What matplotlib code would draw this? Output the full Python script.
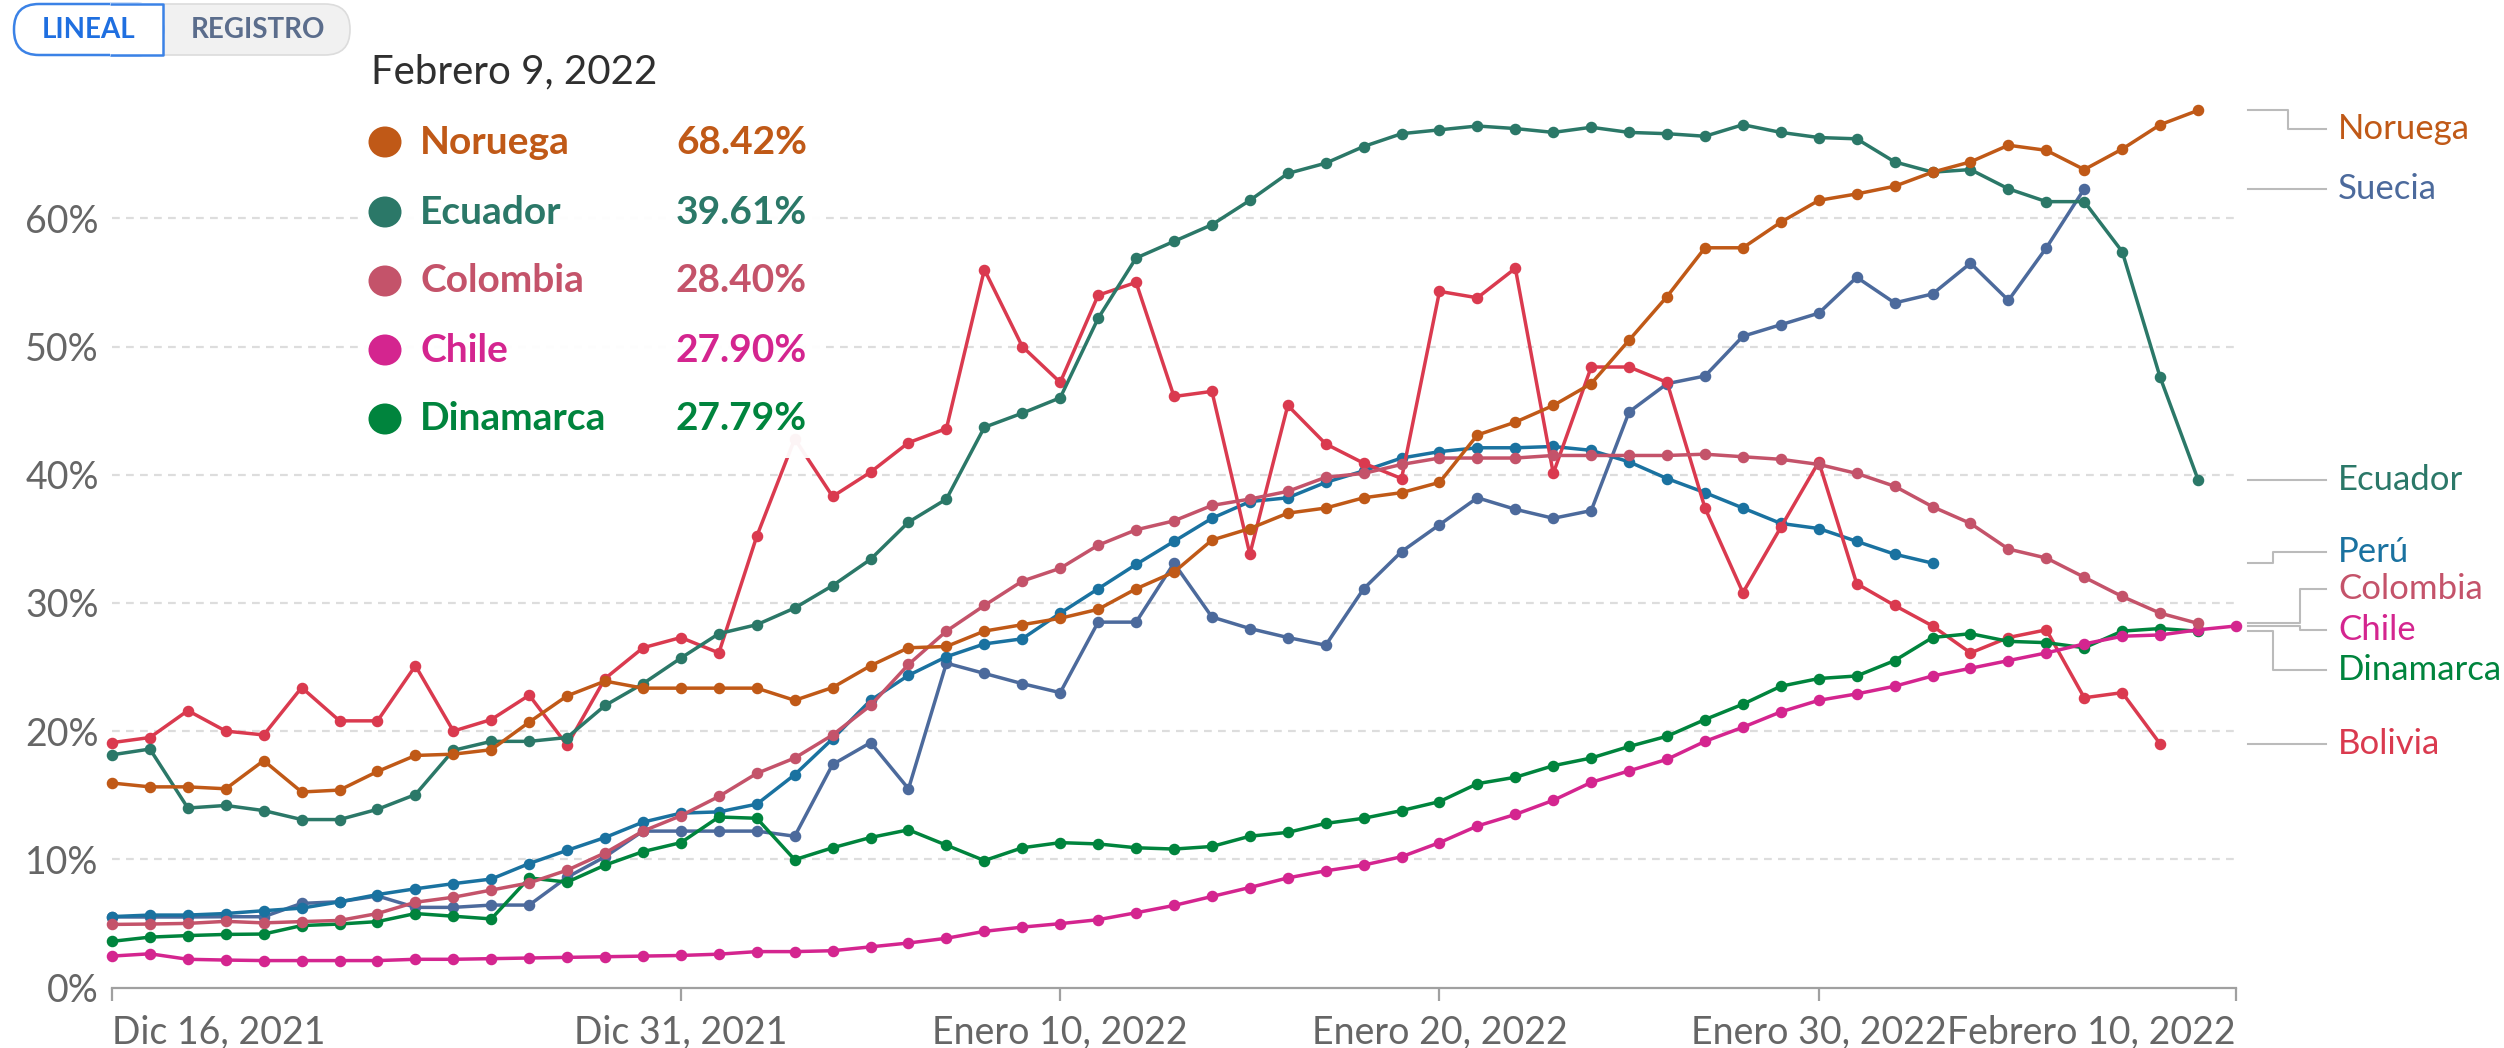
import numpy as np
import pandas as pd
import matplotlib
matplotlib.use("Agg")
import matplotlib.pyplot as plt
import matplotlib.transforms as mtransforms
from matplotlib.patches import Rectangle, FancyBboxPatch, Ellipse

# ---------------- data ----------------
start_date = "2021-12-16"
end_date = "2022-02-10"

noruega = [15.95, 15.65, 15.65, 15.5, 17.7, 15.25, 15.4, 16.85, 18.1, 18.2, 18.55, 20.7, 22.75, 23.9,
           23.35, 23.35, 23.35, 23.35, 22.4, 23.4, 25.1, 26.5, 26.6, 27.8, 28.3, 28.8, 29.5, 31.1, 32.4,
           34.9, 35.8, 37.0, 37.4, 38.2, 38.6, 39.4, 43.1, 44.1, 45.4, 47.1, 50.5, 53.9, 57.7, 57.7, 59.7,
           61.4, 61.9, 62.5, 63.6, 64.4, 65.7, 65.3, 63.8, 65.4, 67.3, 68.42]
ecuador = [18.15, 18.6, 14.0, 14.2, 13.8, 13.1, 13.1, 13.9, 15.05, 18.5, 19.2, 19.2, 19.5, 22.0, 23.7,
           25.7, 27.6, 28.3, 29.6, 31.35, 33.4, 36.3, 38.1, 43.7, 44.8, 46.0, 52.2, 56.9, 58.2, 59.5, 61.4,
           63.5, 64.3, 65.6, 66.6, 66.9, 67.2, 67.0, 66.7, 67.1, 66.7, 66.6, 66.4, 67.3, 66.7, 66.3, 66.2,
           64.4, 63.6, 63.8, 62.3, 61.3, 61.3, 57.4, 47.6, 39.61]
colombia = [4.92, 4.95, 5.0, 5.16, 5.04, 5.14, 5.23, 5.77, 6.65, 7.04, 7.6, 8.16, 9.15, 10.5, 12.2, 13.4,
            14.9, 16.7, 17.9, 19.7, 22.0, 25.2, 27.8, 29.8, 31.7, 32.7, 34.5, 35.7, 36.4, 37.6, 38.1, 38.7,
            39.8, 40.1, 40.8, 41.3, 41.3, 41.3, 41.5, 41.5, 41.5, 41.5, 41.6, 41.4, 41.2, 40.8, 40.1, 39.1,
            37.5, 36.2, 34.2, 33.5, 32.0, 30.5, 29.2, 28.40]
chile = [2.45, 2.63, 2.2, 2.14, 2.1, 2.1, 2.1, 2.1, 2.2, 2.2, 2.25, 2.3, 2.35, 2.4, 2.45, 2.5, 2.6, 2.8,
         2.8, 2.87, 3.17, 3.47, 3.84, 4.38, 4.71, 4.98, 5.29, 5.83, 6.4, 7.1, 7.8, 8.55, 9.1, 9.55, 10.2,
         11.3, 12.6, 13.5, 14.6, 16.0, 16.9, 17.8, 19.2, 20.3, 21.5, 22.4, 22.9, 23.5, 24.3, 24.9, 25.5,
         26.1, 26.8, 27.4, 27.5, 27.90, 28.2]
dinamarca = [3.6, 3.93, 4.05, 4.14, 4.17, 4.83, 4.95, 5.14, 5.77, 5.56, 5.35, 8.55, 8.22, 9.55, 10.6, 11.3,
             13.3, 13.2, 9.97, 10.9, 11.7, 12.3, 11.1, 9.9, 10.9, 11.3, 11.2, 10.9, 10.8, 11.0, 11.8, 12.1,
             12.8, 13.2, 13.8, 14.5, 15.9, 16.4, 17.3, 17.9, 18.8, 19.6, 20.9, 22.1, 23.5, 24.1, 24.3, 25.5,
             27.3, 27.6, 27.0, 26.9, 26.5, 27.8, 28.0, 27.79]
peru = [5.53, 5.65, 5.65, 5.77, 5.99, 6.19, 6.68, 7.25, 7.7, 8.1, 8.46, 9.67, 10.7, 11.7, 12.9, 13.6, 13.7,
        14.3, 16.6, 19.4, 22.4, 24.35, 25.8, 26.8, 27.2, 29.2, 31.1, 33.0, 34.8, 36.6, 37.9, 38.2, 39.4,
        40.3, 41.3, 41.8, 42.1, 42.1, 42.2, 41.9, 41.0, 39.7, 38.6, 37.4, 36.2, 35.8, 34.8, 33.8, 33.1]
suecia = [5.5, 5.5, 5.5, 5.52, 5.52, 6.56, 6.69, 7.14, 6.25, 6.25, 6.43, 6.43, 8.6, 10.2, 12.2, 12.2, 12.2,
          12.2, 11.8, 17.4, 19.1, 15.5, 25.3, 24.5, 23.7, 23.0, 28.5, 28.5, 33.1, 28.9, 28.0, 27.3, 26.7,
          31.1, 34.0, 36.1, 38.2, 37.3, 36.6, 37.2, 44.9, 47.1, 47.7, 50.8, 51.7, 52.6, 55.4, 53.4, 54.1,
          56.5, 53.6, 57.7, 62.3]
bolivia = [19.1, 19.5, 21.6, 20.0, 19.7, 23.4, 20.8, 20.8, 25.1, 20.0, 20.9, 22.8, 18.9, 24.1, 26.5, 27.3,
           26.1, 35.2, 42.8, 38.3, 40.2, 42.5, 43.6, 56.0, 50.0, 47.2, 54.0, 55.0, 46.1, 46.5, 33.8, 45.4,
           42.4, 40.9, 39.7, 54.3, 53.8, 56.1, 40.1, 48.4, 48.4, 47.2, 37.4, 30.8, 35.9, 41.0, 31.5, 29.8,
           28.2, 26.1, 27.3, 27.9, 22.6, 23.0, 19.0]

series_names = ["Suecia", "Perú", "Bolivia", "Dinamarca", "Chile", "Colombia", "Ecuador", "Noruega"]
series_values = [suecia, peru, bolivia, dinamarca, chile, colombia, ecuador, noruega]
series_colors = ["#4C6A9C", "#1A72A0", "#DA3A4F", "#00843D", "#D4258F", "#C4536A", "#2B7868", "#C05917"]

tick_dates = ["2021-12-16", "2021-12-31", "2022-01-10", "2022-01-20", "2022-01-30", "2022-02-10"]
tick_labels = ["Dic 16, 2021", "Dic 31, 2021", "Enero 10, 2022", "Enero 20, 2022", "Enero 30, 2022",
               "Febrero 10, 2022"]
y_ticks = [0, 10, 20, 30, 40, 50, 60]
y_tick_labels = ["0%", "10%", "20%", "30%", "40%", "50%", "60%"]

tooltip_title = "Febrero 9, 2022"
tooltip_names = ["Noruega", "Ecuador", "Colombia", "Chile", "Dinamarca"]
tooltip_values = ["68.42%", "39.61%", "28.40%", "27.90%", "27.79%"]

button_labels = ["LINEAL", "REGISTRO"]

# right-side labels: label y (in %), connector elbow x (axes fraction)
label_order = ["Noruega", "Suecia", "Ecuador", "Perú", "Colombia", "Chile", "Dinamarca", "Bolivia"]
label_y = [67.0, 62.3, 39.65, 34.0, 31.1, 27.85, 24.8, 19.2]
label_elbow = [1.0245, None, None, 1.0174, 1.0300, 1.0300, 1.0174, None]

# ---------------- figure ----------------
plt.rcParams['font.family'] = ['Lato', 'DejaVu Sans']
W, H = 2504, 1048
fig = plt.figure(figsize=(W / 100, H / 100), dpi=100)

ax_left, ax_right = 112, 2236
y0_px, px_per_pct = 987.5, 12.82
ymax = 75
ax = fig.add_axes([ax_left / W, 1 - y0_px / H, (ax_right - ax_left) / W, ymax * px_per_pct / H])

dates = pd.date_range(start_date, end_date)
n = len(dates)

for name, vals, col in zip(series_names, series_values, series_colors):
    arr = np.full(n, np.nan)
    arr[:len(vals)] = vals
    ax.plot(dates, arr, color=col, lw=2.5, marker='o', ms=7.3, mec=col, mfc=col,
            solid_joinstyle='round', zorder=3, clip_on=False)

ax.set_xlim(dates[0], dates[-1])
ax.set_ylim(0, ymax)

for yt in y_ticks[1:]:
    ax.axhline(yt, color='#dddddd', lw=1.6, dashes=(3.5, 2.8), zorder=1)

for s in ['top', 'right', 'left']:
    ax.spines[s].set_visible(False)
ax.spines['bottom'].set_color('#a0a0a0')
ax.spines['bottom'].set_linewidth(1.6)

ax.set_xticks(pd.to_datetime(tick_dates))
ax.set_xticklabels(tick_labels)
ax.tick_params(axis='x', length=9.5, width=1.6, color='#a0a0a0', pad=10,
               labelsize=27, labelcolor='#666666')
xt = ax.get_xticklabels()
xt[0].set_ha('left')
xt[-1].set_ha('right')

ax.set_yticks(y_ticks)
ax.set_yticklabels(y_tick_labels)
ax.tick_params(axis='y', length=0, pad=9.5, labelsize=27, labelcolor='#666666')

# right-side labels with connectors
trans = mtransforms.blended_transform_factory(ax.transAxes, ax.transData)
name_to_idx = {nm: i for i, nm in enumerate(series_names)}
x_start, x_end, x_text = 1.0057, 1.0425, 1.048
for nm, ly, el in zip(label_order, label_y, label_elbow):
    i = name_to_idx[nm]
    end_v = series_values[i][-1]
    col = series_colors[i]
    if el is None:
        xs, ys, ly = [x_start, x_end], [end_v, end_v], end_v
    else:
        xs, ys = [x_start, el, el, x_end], [end_v, end_v, ly, ly]
    ax.plot(xs, ys, color='#bbbbbb', lw=1.5, transform=trans, clip_on=False, zorder=2)
    ax.text(x_text, ly, nm, color=col, fontsize=25, va='center', ha='left',
            transform=trans, clip_on=False)

# ---------------- overlay in pixel coordinates ----------------
ov = fig.add_axes([0, 0, 1, 1], zorder=5)
ov.set_xlim(0, W)
ov.set_ylim(H, 0)
ov.axis('off')
ov.patch.set_alpha(0)

# tooltip
ov.add_patch(Rectangle((362, 25), 458, 433, facecolor='white', edgecolor='none', alpha=0.95))
ov.text(371, 72, tooltip_title, fontsize=29, color='#2f2f2f', va='center', ha='left')
row_y = [142, 212, 281, 350, 419]
for nm, val, ry in zip(tooltip_names, tooltip_values, row_y):
    col = series_colors[name_to_idx[nm]]
    ov.add_patch(Ellipse((385, ry), 33, 31, facecolor=col, edgecolor='none'))
    ov.text(420, ry, nm, fontsize=28, fontweight='bold', color=col, va='center', ha='left')
    ov.text(807, ry, val, fontsize=28, fontweight='bold', color=col, va='center', ha='right')

# buttons
ov.add_patch(FancyBboxPatch((14, 4), 336, 51, boxstyle="round,pad=0,rounding_size=25",
                            facecolor='#f1f1f1', edgecolor='#dcdcdc', lw=1.2))
ov.add_patch(FancyBboxPatch((14, 4), 149, 51, boxstyle="round,pad=0,rounding_size=25",
                            facecolor='white', edgecolor='#3b82e6', lw=1.8))
ov.add_patch(Rectangle((110, 3), 54, 53, facecolor='white', edgecolor='none'))
ov.plot([110, 163, 163, 110], [4, 4, 55, 55], color='#3b82e6', lw=1.8, solid_capstyle='butt')
ov.text(89, 30, button_labels[0], fontsize=20, fontweight='bold', color='#1f6fe0',
        va='center', ha='center')
ov.text(258, 30, button_labels[1], fontsize=20, fontweight='bold', color='#5b6d8c',
        va='center', ha='center')

fig.savefig("out.png", dpi=100, facecolor='white')
